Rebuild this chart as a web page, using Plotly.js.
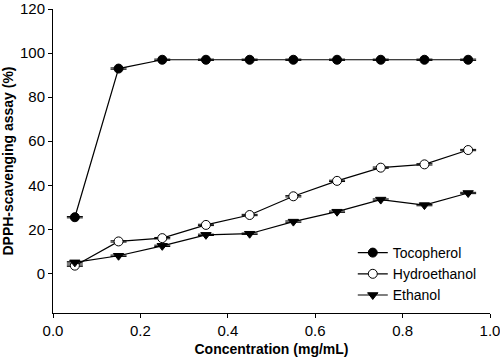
<!DOCTYPE html>
<html>
<head>
<meta charset="utf-8">
<script src="https://cdn.plot.ly/plotly-3.0.1.min.js"></script>
<style>html,body{margin:0;padding:0;background:#fff;}#chart{width:500px;height:357px;}</style>
</head>
<body>
<div id="chart"></div>
<script>
const conc = [0.05, 0.15, 0.25, 0.35, 0.45, 0.55, 0.65, 0.75, 0.85, 0.95];
const tocopherol = [25.5, 93, 97, 97, 97, 97, 97, 97, 97, 97];
const hydroethanol = [3.5, 14.5, 16, 22, 26.5, 35, 42, 48, 49.5, 56];
const ethanol = [5, 8, 12.5, 17.5, 18, 23.5, 28, 33.5, 31, 36.5];
const errTocopherol = [0.3, 0.3, 0.3, 0.3, 0.3, 0.3, 0.3, 0.3, 0.3, 0.3];
const errHydro = [0.3, 0.3, 0.3, 0.3, 0.3, 0.3, 0.3, 0.3, 0.3, 0.3];
const errEthanol = [0.3, 0.3, 0.3, 0.3, 0.3, 0.3, 0.3, 0.3, 0.3, 0.3];
const names = ['Tocopherol', 'Hydroethanol', 'Ethanol'];
const xTicks = [0, 0.2, 0.4, 0.6, 0.8, 1.0];
const xTickText = ['0.0', '0.2', '0.4', '0.6', '0.8', '1.0'];
const yTicks = [0, 20, 40, 60, 80, 100, 120];

function trace(y, err, name, symbol, fill) {
  return {
    x: conc, y: y, name: name, type: 'scatter', mode: 'lines+markers', cliponaxis: false,
    line: {color: '#000', width: 1.2},
    marker: {symbol: symbol, size: 9, color: fill, line: {color: '#000', width: 1}},
    error_y: {type: 'data', array: err, visible: true, color: '#000', thickness: 1, width: 8}
  };
}

const data = [
  trace(tocopherol, errTocopherol, names[0], 'circle', '#000'),
  trace(hydroethanol, errHydro, names[1], 'circle', '#fff'),
  trace(ethanol, errEthanol, names[2], 'triangle-down', '#000')
];

const layout = {
  width: 500, height: 357,
  margin: {l: 53, r: 10, t: 9, b: 44},
  paper_bgcolor: '#fff', plot_bgcolor: '#fff',
  font: {family: 'Liberation Sans, Arial, sans-serif', color: '#000', size: 15},
  showlegend: true,
  legend: {x: 0.686, y: 0.25, xanchor: 'left', yanchor: 'top', bgcolor: 'rgba(0,0,0,0)',
           font: {size: 14}, tracegroupgap: 0, itemwidth: 30},
  xaxis: {
    range: [0, 1], tickvals: xTicks, ticktext: xTickText, ticklabeloverflow: 'allow',
    showgrid: false, zeroline: false, showline: true, linecolor: '#000', linewidth: 1,
    ticks: 'outside', ticklen: 4, tickcolor: '#000', tickfont: {size: 15},
    title: {text: '<b>Concentration (mg/mL)</b>', font: {size: 14}, standoff: 6}
  },
  yaxis: {
    range: [-18, 120.05], tickvals: yTicks, ticklabeloverflow: 'allow',
    showgrid: false, zeroline: false, showline: true, linecolor: '#000', linewidth: 1,
    ticks: 'outside', ticklen: 4, tickcolor: '#000', tickfont: {size: 15},
    title: {text: '<b>DPPH-scavenging assay (%)</b>', font: {size: 14}, standoff: 4}
  }
};

Plotly.newPlot('chart', data, layout, {staticPlot: true, displayModeBar: false});
</script>
</body>
</html>
